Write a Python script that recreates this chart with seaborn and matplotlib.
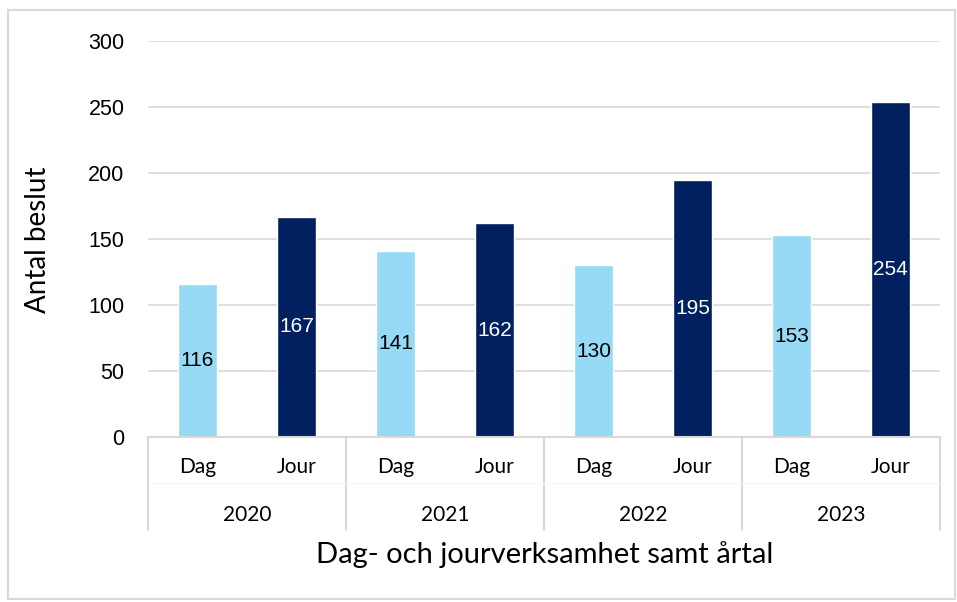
import matplotlib
matplotlib.use("Agg")
import matplotlib.pyplot as plt
import seaborn as sns
import pandas as pd
from matplotlib.patches import Rectangle
from matplotlib.lines import Line2D

years = ["2020", "2021", "2022", "2023"]
kinds = ["Dag", "Jour"]
dag_values = [116, 141, 130, 153]
jour_values = [167, 162, 195, 254]
y_ticks = [0, 50, 100, 150, 200, 250, 300]
y_label = "Antal beslut"
x_label = "Dag- och jourverksamhet samt årtal"

rows = []
for y, d, j in zip(years, dag_values, jour_values):
    rows.append({"cat": f"{y} Dag", "year": y, "kind": "Dag", "value": d})
    rows.append({"cat": f"{y} Jour", "year": y, "kind": "Jour", "value": j})
df = pd.DataFrame(rows)

sns.set_theme(style="white")
plt.rcParams["font.family"] = ["Liberation Sans", "DejaVu Sans"]

W, H = 957, 602
fig = plt.figure(figsize=(W / 100, H / 100), dpi=100)
ax = fig.add_axes([148 / W, 1 - 437 / H, (940 - 148) / W, (437 - 41) / H])

palette = {"Dag": "#97DAF6", "Jour": "#002060"}
sns.barplot(data=df, x="cat", y="value", hue="kind", palette=palette,
            dodge=False, width=0.4, ax=ax, legend=False, saturation=1)

ax.set_ylim(0, 300)
ax.set_xlim(-0.5, len(df) - 0.5)
ax.set_yticks(y_ticks)
ax.set_yticklabels([str(t) for t in y_ticks], fontsize=15.5)
ax.tick_params(axis="y", length=0, pad=17, colors="black")
ax.set_xticks([])
ax.set_xlabel("")
ax.set_ylabel("")
ax.grid(axis="y", color="#D9D9D9", linewidth=1.2)
ax.set_axisbelow(True)
for s in ["top", "right", "left"]:
    ax.spines[s].set_visible(False)
ax.spines["bottom"].set_color("#D9D9D9")
ax.spines["bottom"].set_linewidth(1.5)

# bar labels
for cont in ax.containers:
    for bar in cont:
        h = bar.get_height()
        if h != h or h == 0:
            continue
        x = bar.get_x() + bar.get_width() / 2
        kind_color = "white" if bar.get_facecolor()[2] < 0.5 else "black"
        ax.text(x, h / 2, f"{int(round(h))}", ha="center", va="center",
                fontsize=15, color=kind_color)

def fx(px):
    return px / W
def fy(py):
    return 1 - py / H

sep_x = [148, 346, 544, 742, 940]
for sx in sep_x:
    fig.add_artist(Line2D([fx(sx), fx(sx)], [fy(437), fy(530)], color="#D9D9D9", lw=1.5))
fig.add_artist(Line2D([fx(148), fx(940)], [fy(483), fy(483)], color="#F4F4F4", lw=0.8))

cat_font = ["Lato", "DejaVu Sans"]
for i, row in df.iterrows():
    xd = ax.transData.transform((i, 0))[0]
    fig.text(xd / W, fy(467), row["kind"], ha="center", va="center", fontsize=15,
             family=cat_font, color="black")
for k, y in enumerate(years):
    cx = (sep_x[k] + sep_x[k + 1]) / 2
    fig.text(fx(cx), fy(515), y, ha="center", va="center", fontsize=15,
             family=cat_font, color="black")

fig.text(fx(545), fy(555), x_label, ha="center", va="center", fontsize=21,
         family=cat_font, color="black")
fig.text(fx(38), fy(240), y_label, ha="center", va="center", fontsize=20,
         rotation=90, family=cat_font, color="black")

fig.add_artist(Rectangle((fx(8), fy(599)), fx(955) - fx(8), fy(10) - fy(599),
                         fill=False, edgecolor="#D9D9D9", lw=1.5))

fig.savefig("out.png", dpi=100)
